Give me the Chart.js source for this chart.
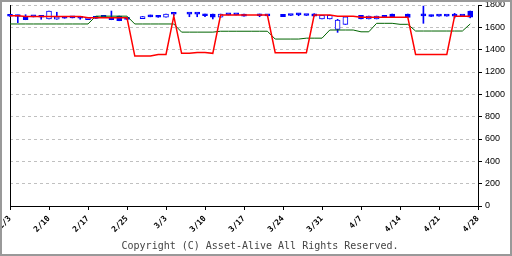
<!DOCTYPE html>
<html>
<head>
<meta charset="utf-8">
<script src="https://cdn.jsdelivr.net/npm/chart.js@4"></script>
<style>
  html, body { margin: 0; padding: 0; background: #fff; }
  #wrap { width: 512px; height: 256px; box-sizing: border-box; border: 2px solid #999; background: #fff; }
  canvas { display: block; }
</style>
</head>
<body>
<div id="wrap"><canvas id="chart" width="508" height="252"></canvas></div>
<script>
// one slot per weekday, 2/3 .. 4/28
const days = [
  '2/3','2/4','2/5','2/6','2/7','2/10','2/11','2/12','2/13','2/14',
  '2/17','2/18','2/19','2/20','2/21','2/24','2/25','2/26','2/27','2/28',
  '3/3','3/4','3/5','3/6','3/7','3/10','3/11','3/12','3/13','3/14',
  '3/17','3/18','3/19','3/20','3/21','3/24','3/25','3/26','3/27','3/28',
  '3/31','4/1','4/2','4/3','4/4','4/7','4/8','4/9','4/10','4/11',
  '4/14','4/15','4/16','4/17','4/18','4/21','4/22','4/23','4/24','4/25',
  '4/28'
];
const tickLabels = ['2/3','2/10','2/17','2/25','3/3','3/10','3/17','3/24','3/31','4/7','4/14','4/21','4/28'];

const opens = [
  1701,1710,1690,1701,1701,1675,1672,1695,1690,1695,
  1668,1690,1691,1690,1701,1690,null,1678,1696,1703,
  1690,1719,null,1720,1720,1719,1719,1690,1713,1713,
  1719,null,1719,1705,null,1716,1708,1713,1708,1722,
  1675,1675,1582,1627,null,1708,1675,1675,1705,1719,
  null,1719,null,1706,1710,1702,1702,1702,1702,1746,
  null
];
const highs = [
  1702,1710,1713,1701,1701,1746,1735,1695,1690,1695,
  1690,1690,1691,1746,1701,1690,null,1697,1710,1703,
  1719,1719,null,1720,1720,1719,1719,1719,1713,1713,
  1719,null,1719,1705,null,1716,1708,1722,1708,1722,
  1708,1708,1672,1695,null,1708,1701,1701,1705,1719,
  null,1719,null,1790,1710,1702,1702,1725,1702,1746,
  null
];
const lows = [
  1698,1642,1668,1693,1672,1675,1672,1681,1684,1672,
  1668,1680,1689,1668,1659,1670,null,1678,1694,1690,
  1690,1705,null,1695,1695,1695,1675,1690,1711,1711,
  1701,null,1695,1703,null,1695,1706,1704,1706,1701,
  1675,1675,1555,1627,null,1675,1675,1675,1690,1690,
  null,1688,null,1636,1697,1700,1700,1684,1700,1685,
  null
];
const closes = [
  1699,1697,1668,1693,1690,1746,1695,1681,1684,1681,
  1686,1680,1689,1668,1659,1670,null,1697,1694,1690,
  1719,1717,null,1718,1718,1704,1690,1719,1711,1711,
  1701,null,1704,1703,null,1695,1706,1711,1706,1701,
  1708,1708,1666,1695,null,1675,1701,1701,1690,1690,
  null,1688,null,1702,1697,1700,1700,1700,1700,1690,
  null
];
const redLine = [
  1703,1703,1697,1697,1697,1697,1697,1697,1697,1697,
  1685,1685,1685,1685,1685,1685,1343,1343,1343,1357,
  1357,1700,1367,1367,1375,1375,1367,1710,1710,1710,
  1710,1710,1710,1710,1373,1373,1373,1373,1373,1710,
  1710,1710,1700,1700,1700,1690,1690,1690,1690,1690,
  1690,1690,1357,1357,1357,1357,1357,1700,1700,1700,
  null
];
const greenLine = [
  1630,1630,1630,1630,1630,1630,1630,1630,1630,1630,
  1630,1700,1700,1700,1700,1700,1630,1630,1630,1630,
  1630,1630,1557,1557,1557,1557,1557,1565,1565,1565,
  1565,1565,1565,1565,1495,1495,1495,1495,1503,1503,
  1503,1576,1576,1576,1576,1560,1560,1636,1636,1636,
  1627,1627,1567,1567,1567,1567,1567,1567,1567,1630,
  null
];

const blue = '#0000ff';

let bodies = opens.map((o, i) => o === null ? null : [o, closes[i]]);
let wicks = lows.map((l, i) => l === null ? null : [l, highs[i]]);

new Chart(document.getElementById('chart'), {
  type: 'bar',
  data: {
    labels: days,
    datasets: [
      {
        type: 'line', data: redLine, borderColor: '#ff0000', borderWidth: 1.5,
        pointRadius: 0, tension: 0, order: 0
      },
      {
        type: 'line', data: greenLine, borderColor: '#006400', borderWidth: 1,
        pointRadius: 0, tension: 0, order: 1
      },
      {
        data: bodies, grouped: false, barThickness: 5, minBarLength: 2,
        backgroundColor: ctx => closes[ctx.dataIndex] < opens[ctx.dataIndex] ? blue : '#ffffff',
        borderColor: blue, borderWidth: 1, borderSkipped: false, clip: false, order: 2
      },
      {
        data: wicks, grouped: false, barThickness: 1,
        backgroundColor: blue, borderWidth: 0, clip: false, order: 3
      }
    ]
  },
  options: {
    responsive: false,
    animation: false,
    devicePixelRatio: 1,
    layout: { padding: { left: 8, top: 3, right: 0, bottom: 0 } },
    plugins: {
      legend: { display: false },
      tooltip: { enabled: false },
      title: {
        display: true,
        position: 'bottom',
        text: 'Copyright (C) Asset-Alive All Rights Reserved.',
        color: '#444',
        font: { family: 'DejaVu Sans Mono', size: 10, weight: 'normal' },
        padding: { top: 4, bottom: 2 }
      }
    },
    scales: {
      x: {
        offset: false,
        grid: { offset: false, drawOnChartArea: false, color: '#000', tickLength: 4 },
        border: { color: '#000' },
        ticks: {
          autoSkip: false, minRotation: 45, maxRotation: 45, padding: 4,
          color: '#000',
          font: { family: 'DejaVu Sans Mono', size: 8, weight: 'bold' },
          callback: (value, index) => index % 5 === 0 ? tickLabels[index / 5] : null
        },
        afterFit: s => { s.height = 30; s.paddingLeft = 0; s.paddingRight = 0; }
      },
      y: {
        position: 'right',
        min: 0, max: 1800,
        grid: { color: '#c0c0c0', tickColor: '#000', tickLength: 4 },
        border: { color: '#000', dash: [3, 3] },
        ticks: {
          stepSize: 200, padding: 3, color: '#000',
          font: { family: 'Liberation Sans', size: 9 },
          callback: v => String(v)
        },
        afterFit: s => { s.width = 32; s.paddingTop = 0; s.paddingBottom = 0; }
      },
      yl: {
        position: 'left',
        grid: { drawOnChartArea: false, drawTicks: false },
        border: { color: '#000' },
        ticks: { display: false },
        afterFit: s => { s.width = 0; s.paddingTop = 0; s.paddingBottom = 0; }
      }
    }
  }
});
</script>
</body>
</html>
